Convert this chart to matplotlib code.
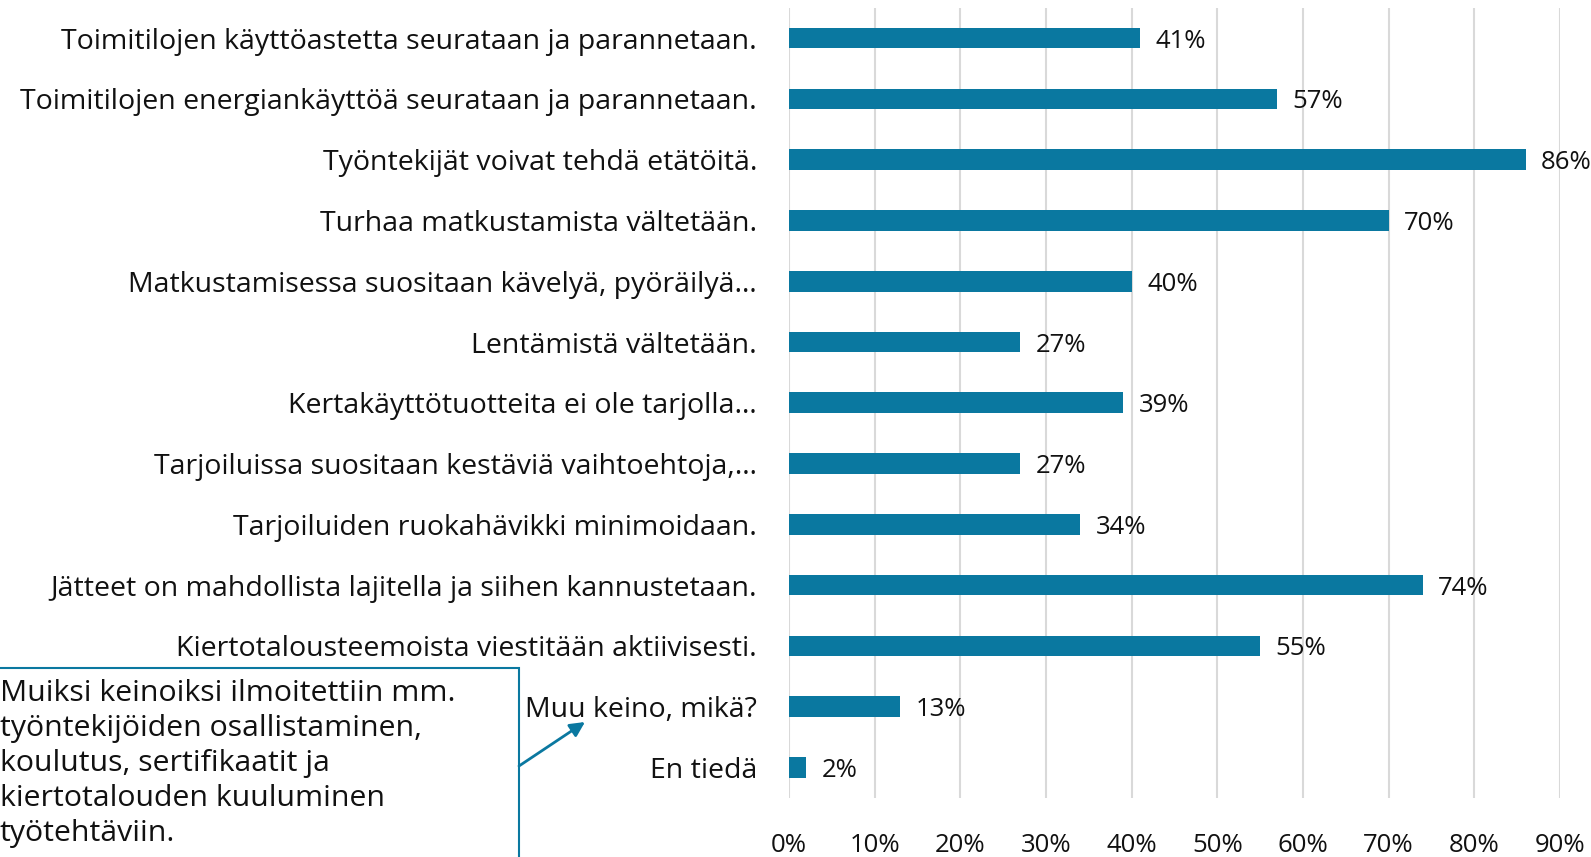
import matplotlib.pyplot as plt
from matplotlib.patches import Rectangle

plt.rcParams['font.family'] = ['Open Sans', 'DejaVu Sans']

categories = [
    'Toimitilojen käyttöastetta seurataan ja parannetaan.',
    'Toimitilojen energiankäyttöä seurataan ja parannetaan.',
    'Työntekijät voivat tehdä etätöitä.',
    'Turhaa matkustamista vältetään.',
    'Matkustamisessa suositaan kävelyä, pyöräilyä…',
    'Lentämistä vältetään.',
    'Kertakäyttötuotteita ei ole tarjolla…',
    'Tarjoiluissa suositaan kestäviä vaihtoehtoja,…',
    'Tarjoiluiden ruokahävikki minimoidaan.',
    'Jätteet on mahdollista lajitella ja siihen kannustetaan.',
    'Kiertotalousteemoista viestitään aktiivisesti.',
    'Muu keino, mikä?',
    'En tiedä',
]
values = [41, 57, 86, 70, 40, 27, 39, 27, 34, 74, 55, 13, 2]
xticks = [0, 10, 20, 30, 40, 50, 60, 70, 80, 90]

note = ('Muiksi keinoiksi ilmoitettiin mm.\n'
        'työntekijöiden osallistaminen,\n'
        'koulutus, sertifikaatit ja\n'
        'kiertotalouden kuuluminen\n'
        'työtehtäviin.')

bar_color = '#0a78a0'

fig = plt.figure(figsize=(15.91, 8.57), dpi=100)
ax = fig.add_axes([0.496, 0.069, 0.4845, 0.922])

y = range(len(categories))
ax.barh(y, values, height=0.34, color=bar_color, zorder=3)
for i, v in enumerate(values):
    ax.text(v + 1.8, i + 0.05, f'{v}%', va='center', ha='left',
            fontsize=18.5, color='#111111', clip_on=False)

ax.set_ylim(len(categories) - 0.5, -0.5)
ax.set_xlim(0, 90)
ax.set_yticks(list(y))
ax.set_yticklabels(categories, fontsize=20.5, color='#111111')
ax.set_xticks(xticks)
ax.set_xticklabels([f'{t}%' for t in xticks], fontsize=18.5, color='#111111')
ax.tick_params(axis='y', length=0, pad=23)
ax.tick_params(axis='x', length=0, pad=25)
ax.grid(axis='x', color='#d9d9d9', linewidth=1.5, zorder=0)
for s in ['top', 'right', 'bottom', 'left']:
    ax.spines[s].set_visible(False)

# note box at lower left
box = Rectangle((-0.01, -0.05), 519 / 1591 + 0.01, 0.05 + (857 - 668) / 857,
                transform=fig.transFigure, fill=False,
                edgecolor=bar_color, linewidth=1.5)
fig.patches.append(box)
fig.text(0.0, (857 - 679) / 857, note, ha='left', va='top', fontsize=21.8,
         color='#111111', linespacing=1.27)
ax.annotate('', xy=(585 / 1591, 1 - 722 / 857), xycoords='figure fraction',
            xytext=(519 / 1591, 1 - 766 / 857), textcoords='figure fraction',
            arrowprops=dict(arrowstyle='-|>', color=bar_color, lw=2,
                            mutation_scale=22, shrinkA=0, shrinkB=0))

fig.savefig('out.png', dpi=100)
